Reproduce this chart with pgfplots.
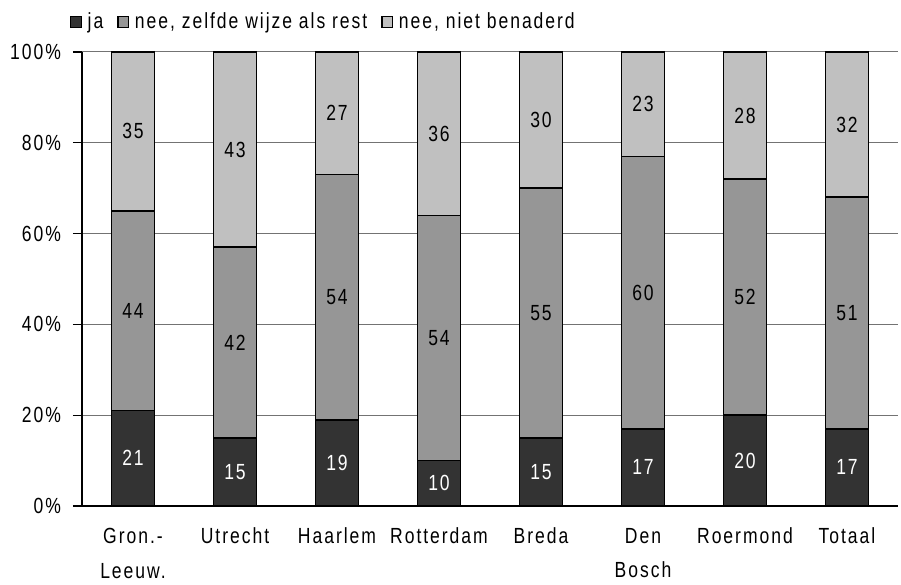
\documentclass[border=0pt]{standalone}
\usepackage{pgfplots}
\pgfplotsset{compat=1.18}
\usepackage{pgfplotstable}
\usepackage{fontspec}
\setmainfont[FakeStretch=0.8,LetterSpace=9]{Liberation Sans}
\definecolor{cja}{HTML}{333333}
\definecolor{cnee}{HTML}{969696}
\definecolor{cniet}{HTML}{C0C0C0}
\pgfplotstableread{
x ja nee niet
0 21 44 35
1 15 42 43
2 19 54 27
3 10 54 36
4 15 55 30
5 17 60 23
6 20 52 28
7 17 51 32
}\data
\pgfplotsset{
  /pgf/number format/assume math mode=true,
  base/.style={
    at={(41bp,39.5bp)}, anchor=south west, scale only axis,
    width=408bp, height=227bp,
    xmin=-0.5, xmax=7.5, ymin=0, ymax=100,
  },
  lbl/.style={draw=none, mark=none, nodes near coords, point meta=explicit,
    nodes near coords={\pgfmathprintnumber[assume math mode=true]{\pgfplotspointmeta}},
    nodes near coords style={anchor=center, font=\fontsize{11}{13}\selectfont, text=#1}},
}
\begin{document}
\begin{tikzpicture}
\useasboundingbox (0,0) rectangle (450.5bp,292.5bp);
\begin{axis}[base,
  ybar stacked, bar width=21.5bp,
  axis x line*=bottom, axis y line*=left,
  axis line style={black, line width=0.8bp},
  ytick={0,20,...,100},
  yticklabel={\pgfmathprintnumber{\tick}\%},
  ymajorgrids, grid style={color=black!55, line width=0.5bp},
  tick align=outside, major tick length=4.5bp,
  ytick style={black, line width=0.6bp},
  xtick={0,...,7}, xtick style={draw=none},
  xticklabels={{Gron.-\\Leeuw.},Utrecht,Haarlem,Rotterdam,Breda,{Den\\Bosch},Roermond,Totaal},
  xticklabel style={align=center, font=\fontsize{11}{17.5}\selectfont, yshift=-3bp},
  yticklabel style={font=\fontsize{11}{13}\selectfont, xshift=-2.5bp},
  legend style={at={(-0.015,1.066)}, anchor=west, draw=none, fill=none,
    legend columns=3, font=\fontsize{11}{13}\selectfont,
    /tikz/every odd column/.append style={column sep=1bp},
    /tikz/every even column/.append style={column sep=5bp},
    inner sep=0pt},
  legend image code/.code={\draw[#1, line width=0.6bp] (0bp,-2.6bp) rectangle (5.2bp,2.6bp);},
]
\addplot[fill=cja, draw=black, line width=0.8bp] table[x=x, y=ja]{\data};
\addplot[fill=cnee, draw=black, line width=0.8bp] table[x=x, y=nee]{\data};
\addplot[fill=cniet, draw=black, line width=0.8bp] table[x=x, y=niet]{\data};
\legend{ja, {nee, zelfde wijze als rest}, {nee, niet benaderd}}
\end{axis}
\begin{axis}[base, axis lines=none, ticks=none]
\addplot[lbl=white] table[x=x, y expr=\thisrow{ja}/2, meta=ja]{\data};
\addplot[lbl=black] table[x=x, y expr=\thisrow{ja}+\thisrow{nee}/2, meta=nee]{\data};
\addplot[lbl=black] table[x=x, y expr=\thisrow{ja}+\thisrow{nee}+\thisrow{niet}/2, meta=niet]{\data};
\end{axis}
\end{tikzpicture}
\end{document}
